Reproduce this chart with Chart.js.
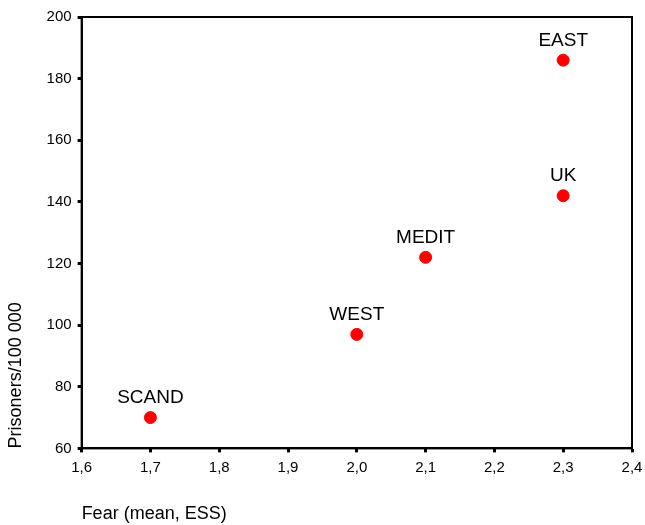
<!DOCTYPE html>
<html>
<head>
<meta charset="utf-8">
<script src="https://cdn.jsdelivr.net/npm/chart.js@4"></script>
<style>
  body { margin: 0; background: #fff; }
  #wrap { width: 645px; height: 525px; }
</style>
</head>
<body>
<div id="wrap"><canvas id="scatter"></canvas></div>
<script>
// Regions and their values
const regions = ['SCAND', 'WEST', 'MEDIT', 'UK', 'EAST'];
const fear = [1.7, 2.0, 2.1, 2.3, 2.3];
const prisoners = [70, 97, 122, 142, 186];

let points = [];
for (let i = 0; i < regions.length; i++) {
    points.push({ x: fear[i], y: prisoners[i] });
}

const fontFamily = '"Liberation Sans", Arial, sans-serif';

// Box around the plot area and labels over the points
const framePlugin = {
    id: 'frame',
    afterDraw(chart) {
        const ctx = chart.ctx;
        const a = chart.chartArea;
        ctx.save();
        ctx.strokeStyle = '#000';
        ctx.lineWidth = 2;
        ctx.strokeRect(a.left, a.top, a.right - a.left, a.bottom - a.top);

        ctx.fillStyle = '#000';
        ctx.font = '19px ' + fontFamily;
        ctx.textAlign = 'center';
        ctx.textBaseline = 'bottom';
        const meta = chart.getDatasetMeta(0);
        meta.data.forEach((pt, i) => {
            ctx.fillText(regions[i], pt.x, pt.y - 10);
        });
        ctx.restore();
    }
};

const ctx = document.getElementById('scatter').getContext('2d');
const chart = new Chart(ctx, {
    type: 'scatter',
    data: {
        datasets: [
            {
                label: 'Prisoners',
                data: points,
                backgroundColor: '#ff0000',
                borderColor: '#ff0000',
                pointRadius: 6,
                pointHoverRadius: 6
            }
        ]
    },
    options: {
        responsive: true,
        maintainAspectRatio: false,
        animation: false,
        layout: {
            padding: { top: 17, right: 0, left: 5, bottom: 0 }
        },
        plugins: {
            legend: { display: false },
            tooltip: { enabled: false }
        },
        scales: {
            x: {
                type: 'linear',
                min: 1.6,
                max: 2.4,
                afterFit: (scale) => { scale.paddingRight = 13; },
                border: { color: '#000', width: 2 },
                grid: {
                    drawOnChartArea: false,
                    color: '#000',
                    tickLength: 4,
                    tickWidth: 3
                },
                ticks: {
                    stepSize: 0.1,
                    color: '#000',
                    padding: 6,
                    font: { family: fontFamily, size: 15 },
                    callback: (v) => v.toFixed(1).replace('.', ',')
                },
                title: {
                    display: true,
                    text: 'Fear (mean, ESS)',
                    align: 'start',
                    color: '#000',
                    padding: { top: 21, bottom: 0 },
                    font: { family: fontFamily, size: 18 }
                }
            },
            y: {
                min: 60,
                max: 200,
                border: { color: '#000', width: 2 },
                grid: {
                    drawOnChartArea: false,
                    color: '#000',
                    tickLength: 4,
                    tickWidth: 3
                },
                ticks: {
                    stepSize: 20,
                    color: '#000',
                    padding: 6,
                    font: { family: fontFamily, size: 15 }
                },
                title: {
                    display: true,
                    text: 'Prisoners/100 000',
                    align: 'start',
                    color: '#000',
                    padding: { top: 0, bottom: 14 },
                    font: { family: fontFamily, size: 18 }
                }
            }
        }
    },
    plugins: [framePlugin]
});
</script>
</body>
</html>
